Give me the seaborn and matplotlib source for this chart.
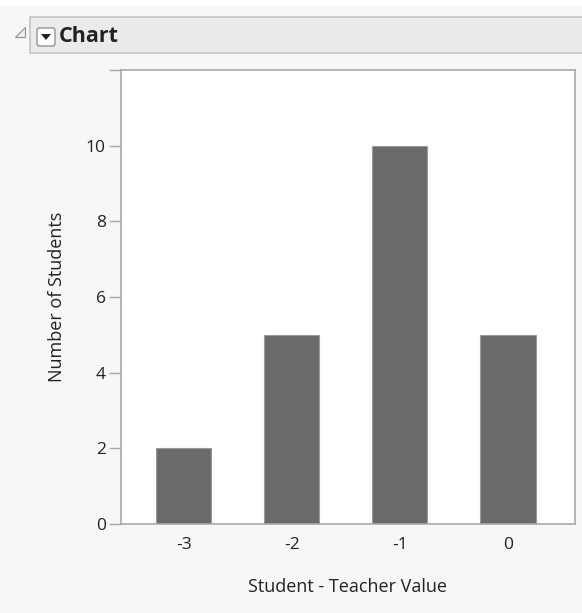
import matplotlib.pyplot as plt
import matplotlib.patches as mpatches
import pandas as pd
import seaborn as sns

# values
diff_values = ['-3', '-2', '-1', '0']
student_counts = [2, 5, 10, 5]
y_ticks = [0, 2, 4, 6, 8, 10, 12]
y_tick_labels = ['0', '2', '4', '6', '8', '10', '']

df = pd.DataFrame({'diff': diff_values, 'count': student_counts})

sns.set_style('white')
plt.rcParams['font.family'] = ['Open Sans', 'DejaVu Sans']

fig = plt.figure(figsize=(5.82, 6.13), dpi=100, facecolor='#f7f7f7')
W, H = 582, 613
ax = fig.add_axes([121 / W, 1 - 524 / H, (575 - 121) / W, (524 - 70) / H])
ax.set_facecolor('white')

sns.barplot(data=df, x='diff', y='count', order=diff_values, color='#6b6b6b',
            saturation=1, width=0.51, edgecolor='#9a9a9a', linewidth=0.8, ax=ax)

ax.set_xlim(-0.58, 3.62)
ax.set_ylim(0, 12)
ax.set_yticks(y_ticks)
ax.set_yticklabels(y_tick_labels)
for s in ax.spines.values():
    s.set_color('#a8a8a8')
    s.set_linewidth(1.2)
ax.tick_params(axis='y', left=True, length=9, width=1, color='#a8a8a8',
               labelsize=12.5, labelcolor='#222222', pad=2)
ax.tick_params(axis='x', bottom=False, labelsize=12.5, labelcolor='#222222', pad=6)
ax.set_xlabel('Student - Teacher Value', fontsize=13, color='#222222', labelpad=18)
ax.set_ylabel('Number of Students', fontsize=13, color='#222222', labelpad=14)

# header strip
fig.patches.append(mpatches.Rectangle((30 / W, 1 - 53 / H), 1, 36 / H, transform=fig.transFigure,
                                      facecolor='#ebebeb', edgecolor='#c4c4c4', linewidth=1.2))
fig.patches.append(mpatches.Rectangle((0, 1 - 6 / H), 1, 6 / H, transform=fig.transFigure,
                                      facecolor='white', edgecolor='none'))
fig.patches.append(mpatches.Polygon([(15 / W, 1 - 37 / H), (25 / W, 1 - 37 / H), (25 / W, 1 - 27 / H)],
                                    closed=True, transform=fig.transFigure,
                                    facecolor='#f0f0f0', edgecolor='#909090', linewidth=0.8))
fig.patches.append(mpatches.FancyBboxPatch((37 / W, 1 - 46 / H), 18 / W, 18 / H,
                                           boxstyle='round,pad=0,rounding_size=0.004',
                                           transform=fig.transFigure, facecolor='white',
                                           edgecolor='#8a8a8a', linewidth=0.9))
fig.patches.append(mpatches.Polygon([(41 / W, 1 - 34 / H), (51 / W, 1 - 34 / H), (46 / W, 1 - 40 / H)],
                                    closed=True, transform=fig.transFigure,
                                    facecolor='#222222', edgecolor='none'))
fig.text(59 / W, 1 - 37 / H, 'Chart', fontsize=15.5, fontweight='bold', color='#222222',
         va='center', ha='left')

fig.savefig('out.png', dpi=100, facecolor=fig.get_facecolor())
